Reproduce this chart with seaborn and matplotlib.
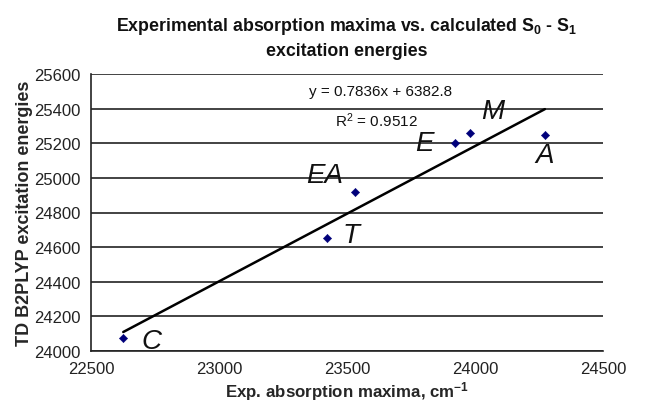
import numpy as np
import pandas as pd
import matplotlib
matplotlib.use('Agg')
import matplotlib.pyplot as plt
import seaborn as sns

# Data
compounds = ['C', 'T', 'EA', 'E', 'M', 'A']
exp_max = [22626, 23423, 23532, 23922, 23982, 24273]
calc_s0s1 = [24073, 24653, 24919, 25200, 25260, 25245]
# label offsets in points (style only)
label_offsets = [(20, -2), (17, 2), (-22, 12), (-22, 0), (16, 16), (0, -14)]

df = pd.DataFrame({'compound': compounds, 'exp': exp_max, 'calc': calc_s0s1})

sns.set_style('white')
plt.rcParams.update({
    'font.family': ['Liberation Sans', 'DejaVu Sans'],
    'mathtext.fontset': 'custom',
    'mathtext.rm': 'Liberation Sans',
    'mathtext.bf': 'Liberation Sans:bold',
    'mathtext.it': 'Liberation Sans:italic',
    'text.color': '#111111',
})

fig = plt.figure(figsize=(6.56, 4.06), dpi=100)
ax = fig.add_axes([91 / 656, 54 / 406, 512 / 656, 277 / 406])

sns.regplot(data=df, x='exp', y='calc', ax=ax, scatter=False, ci=None,
            truncate=True, line_kws=dict(color='black', lw=1.8))
sns.scatterplot(data=df, x='exp', y='calc', ax=ax, marker='D', s=18,
                color='#00007a', edgecolor='#00007a', zorder=4)

for name, x, y, off in zip(compounds, exp_max, calc_s0s1, label_offsets):
    ax.annotate(name, xy=(x, y), xytext=off, textcoords='offset points',
                fontsize=20, fontstyle='italic', ha='center', va='center',
                color='#111111')

ax.text(23630, 25500, 'y = 0.7836x + 6382.8', fontsize=11, ha='center', va='center')
ax.text(23615, 25335, r'R$^2$ = 0.9512', fontsize=11, ha='center', va='center')

ax.set_xlim(22500, 24500)
ax.set_ylim(24000, 25600)
ax.set_xticks(np.arange(22500, 24501, 500))
ax.set_yticks(np.arange(24000, 25601, 200))
ax.yaxis.grid(True, color='#222222', lw=1.2)
ax.xaxis.grid(False)
ax.set_axisbelow(True)
for s in ['top', 'right']:
    ax.spines[s].set_visible(False)
for s in ['left', 'bottom']:
    ax.spines[s].set_color('#222222')
    ax.spines[s].set_linewidth(1.2)
ax.tick_params(axis='both', which='major', direction='out', length=4,
               width=1.2, color='#222222', labelsize=12, labelcolor='#222222')

ax.set_xlabel(r'Exp. absorption maxima, cm$^{\mathbf{-1}}$', fontsize=12.2,
              fontweight='bold', labelpad=2)
ax.set_ylabel('TD B2PLYP excitation energies', fontsize=13,
              fontweight='bold', labelpad=1)
ax.set_title('Experimental absorption maxima vs. calculated '
             r'S$_\mathbf{0}$ - S$_\mathbf{1}$' + '\nexcitation energies',
             fontsize=12.8, fontweight='bold', pad=14, linespacing=1.45)

fig.savefig('out.png', dpi=100)
